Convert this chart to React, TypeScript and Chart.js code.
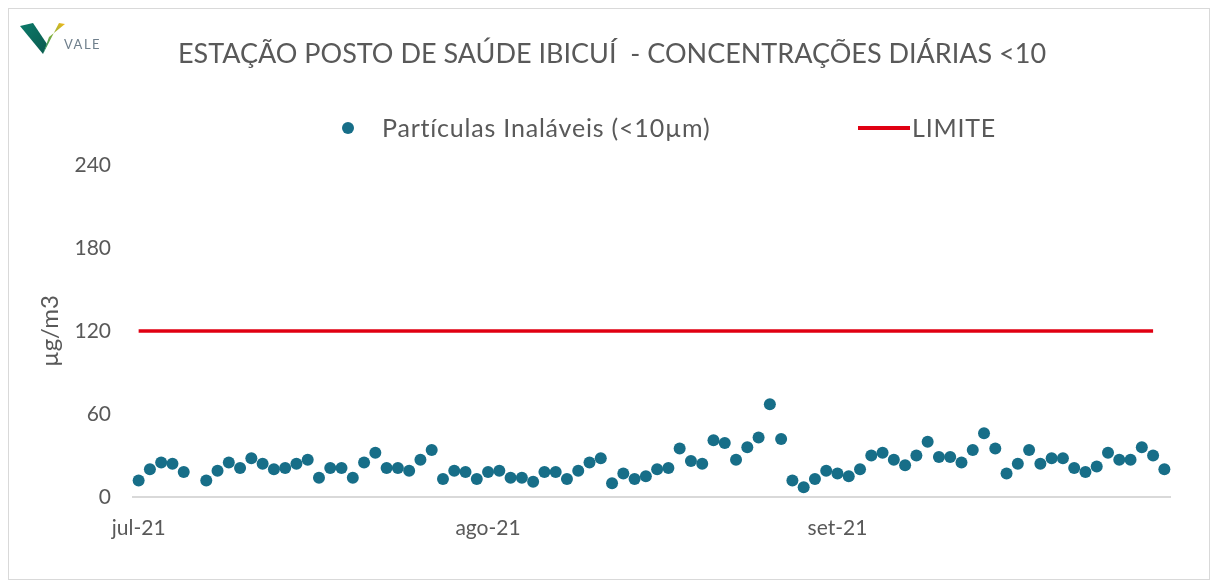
import React, { useEffect, useRef } from "react";
import { Chart, registerables } from "chart.js";

Chart.register(...registerables);

// ---- data ----
const monthLabels = ["jul-21", "ago-21", "set-21"];
const monthLengths = [31, 31, 30];

// daily concentrations (µg/m3), Jul 1 – Sep 30 2021 (null = no data)
const julValues = [12, 20, 25, 24, 18, null, 12, 19, 25, 21, 28, 24, 20, 21, 24, 27, 14, 21, 21, 14, 25, 32, 21, 21, 19, 27, 34, 13, 19, 18, 13];
const agoValues = [18, 19, 14, 14, 11, 18, 18, 13, 19, 25, 28, 10, 17, 13, 15, 20, 21, 35, 26, 24, 41, 39, 27, 36, 43, 67, 42, 12, 7, 13, 19];
const setValues = [17, 15, 20, 30, 32, 27, 23, 30, 40, 29, 29, 25, 34, 46, 35, 17, 24, 34, 24, 28, 28, 21, 18, 22, 32, 27, 27, 36, 30, 20];

const LIMIT = 120;
const limitDays = 91; // line drawn Jul 1 – Sep 29

const yTicks = [0, 60, 120, 180, 240];

const TEXT = "#595959";
const FONT = "Lato, 'Open Sans', sans-serif";

export default function App() {
  const ref = useRef<HTMLCanvasElement | null>(null);

  useEffect(() => {
    if (!ref.current) return;
    const labels: string[] = [];
    const tickMap: Record<number, string> = {};
    let idx = 0;
    monthLengths.forEach((len, m) => {
      tickMap[idx] = monthLabels[m];
      for (let d = 1; d <= len; d++) {
        labels.push(`2021-${String(7 + m).padStart(2, "0")}-${String(d).padStart(2, "0")}`);
        idx++;
      }
    });
    const values = [...julValues, ...agoValues, ...setValues];
    const limit = labels.map((_, i) => (i < limitDays ? LIMIT : null));

    const chart = new Chart(ref.current, {
      type: "line",
      data: {
        labels,
        datasets: [
          {
            label: "Partículas Inaláveis (<10µm)",
            data: values,
            showLine: false,
            pointRadius: 6,
            pointHoverRadius: 6,
            pointBackgroundColor: "#176e88",
            pointBorderColor: "#176e88",
            pointBorderWidth: 0,
            borderColor: "#176e88",
            backgroundColor: "#176e88",
          },
          {
            label: "LIMITE",
            data: limit,
            borderColor: "#e00012",
            borderWidth: 3.5,
            pointRadius: 0,
            fill: false,
          },
        ],
      },
      options: {
        responsive: false,
        animation: false,
        layout: { padding: { top: 156, right: 39, bottom: 40, left: 0 } },
        plugins: {
          legend: { display: false },
          title: { display: false },
          tooltip: { enabled: false },
        },
        scales: {
          x: {
            type: "category",
            offset: true,
            grid: { display: false, drawTicks: false },
            border: { display: true, color: "#d9d9d9", width: 2 },
            ticks: {
              autoSkip: false,
              maxRotation: 0,
              minRotation: 0,
              padding: 19,
              color: TEXT,
              font: { family: FONT, size: 21 },
              callback: (_v: any, i: number) => (tickMap[i] !== undefined ? tickMap[i] : ""),
            },
            afterFit: (s: any) => {
              s.height = 42;
            },
          },
          y: {
            min: 0,
            max: 240,
            grid: { display: false, drawTicks: false },
            border: { display: false },
            afterBuildTicks: (s: any) => {
              s.ticks = yTicks.map((v) => ({ value: v }));
            },
            ticks: {
              padding: 22,
              color: TEXT,
              font: { family: FONT, size: 21 },
            },
            title: {
              display: true,
              text: "µg/m3",
              color: TEXT,
              font: { family: FONT, size: 24 },
              padding: { top: 27, bottom: 0 },
            },
            afterFit: (s: any) => {
              s.width = 124;
            },
          },
        },
      },
    });
    return () => chart.destroy();
  }, []);

  return (
    <div
      style={{
        position: "relative",
        width: 1200,
        height: 570,
        border: "1px solid #d9d9d9",
        background: "#fff",
        fontFamily: FONT,
      }}
    >
      <canvas ref={ref} width={1200} height={570} style={{ display: "block" }} />
      <svg
        width={46}
        height={33}
        viewBox="0 0 46 33"
        style={{ position: "absolute", left: 11, top: 13 }}
      >
        <defs>
          <linearGradient id="gl" x1="0" y1="0" x2="1" y2="1">
            <stop offset="0" stopColor="#0c7a6a" />
            <stop offset="1" stopColor="#0b5a4e" />
          </linearGradient>
          <linearGradient id="gr" x1="1" y1="0" x2="0" y2="1">
            <stop offset="0" stopColor="#f6b81a" />
            <stop offset="0.45" stopColor="#8fb43a" />
            <stop offset="1" stopColor="#138a6a" />
          </linearGradient>
        </defs>
        <polygon points="0,4 13,1 27,22 23,32" fill="url(#gl)" />
        <polygon points="23,32 29,15 45,2 39,1" fill="url(#gr)" />
      </svg>
      <div
        style={{
          position: "absolute",
          left: 55,
          top: 27,
          fontSize: 13,
          lineHeight: "16px",
          color: "#6f7f8c",
          letterSpacing: 1.5,
          fontFamily: FONT,
        }}
      >
        VALE
      </div>
      <div
        style={{
          position: "absolute",
          left: 3,
          top: 28,
          width: 1200,
          textAlign: "center",
          fontSize: 27,
          lineHeight: "31px",
          color: TEXT,
          whiteSpace: "pre",
        }}
      >
        {"ESTAÇÃO POSTO DE SAÚDE IBICUÍ  - CONCENTRAÇÕES DIÁRIAS <10"}
      </div>
      <div
        style={{
          position: "absolute",
          left: 333,
          top: 113,
          width: 12,
          height: 12,
          borderRadius: 6,
          background: "#176e88",
        }}
      />
      <div
        style={{
          position: "absolute",
          left: 373,
          top: 104,
          fontSize: 25,
          lineHeight: "29px",
          letterSpacing: 0.8,
          color: TEXT,
          whiteSpace: "pre",
        }}
      >
        Partículas Inaláveis (&lt;10µm)
      </div>
      <div
        style={{
          position: "absolute",
          left: 849,
          top: 117,
          width: 52,
          height: 4,
          background: "#e00012",
        }}
      />
      <div
        style={{
          position: "absolute",
          left: 903,
          top: 104,
          fontSize: 25,
          lineHeight: "29px",
          letterSpacing: 0.8,
          color: TEXT,
          whiteSpace: "pre",
        }}
      >
        LIMITE
      </div>
    </div>
  );
}
